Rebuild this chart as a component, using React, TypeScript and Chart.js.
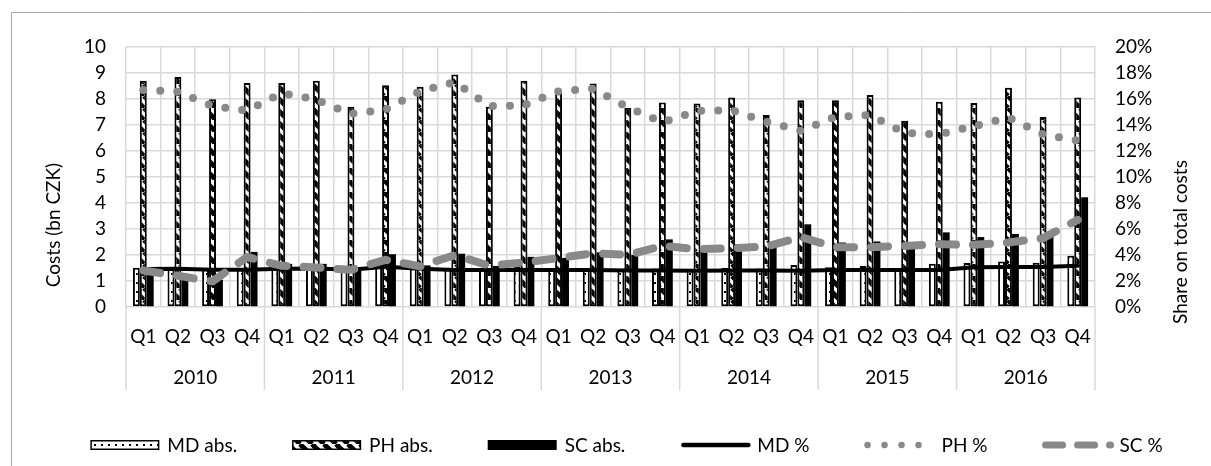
import React, { useEffect, useRef } from 'react';
import { Chart, registerables } from 'chart.js';

Chart.register(...registerables);

// ---------- data ----------
const years = ['2010', '2011', '2012', '2013', '2014', '2015', '2016'];
const quarters = ['Q1', 'Q2', 'Q3', 'Q4'];

const mdAbs = [1.51, 1.51, 1.45, 1.47, 1.48, 1.55, 1.45, 1.66, 1.5, 1.5, 1.45, 1.58, 1.45, 1.5, 1.45, 1.48, 1.45, 1.5, 1.48, 1.62, 1.53, 1.58, 1.5, 1.66, 1.69, 1.75, 1.7, 1.97];
const phAbs = [8.7, 8.85, 7.99, 8.62, 8.62, 8.7, 7.7, 8.53, 8.47, 8.94, 7.7, 8.7, 8.34, 8.6, 7.66, 7.87, 7.83, 8.06, 7.38, 7.95, 7.95, 8.15, 7.16, 7.89, 7.85, 8.43, 7.31, 8.06];
const scAbs = [1.47, 1.28, 1.05, 2.12, 1.66, 1.66, 1.48, 2.03, 1.6, 2.05, 1.58, 1.93, 1.89, 2.1, 2.0, 2.6, 2.31, 2.41, 2.41, 3.18, 2.48, 2.52, 2.5, 2.87, 2.69, 2.81, 2.75, 4.22];
const mdPct = [2.92, 2.95, 2.86, 2.86, 2.95, 2.97, 2.86, 3.1, 2.95, 2.85, 2.85, 2.85, 2.85, 2.85, 2.8, 2.8, 2.78, 2.8, 2.8, 2.78, 2.85, 2.85, 2.85, 2.85, 3.05, 3.07, 3.07, 3.17];
const phPct = [16.7, 16.55, 15.45, 15.1, 16.45, 15.95, 14.85, 15.2, 16.6, 17.3, 15.45, 15.5, 16.6, 16.8, 15.35, 14.2, 15.09, 15.14, 14.25, 13.55, 14.63, 14.76, 13.4, 13.28, 13.91, 14.58, 13.28, 12.8];
const scPct = [2.81, 2.4, 1.97, 3.85, 3.17, 3.04, 2.86, 3.63, 3.12, 4.0, 3.17, 3.43, 3.76, 4.14, 4.0, 4.7, 4.45, 4.52, 4.65, 5.37, 4.6, 4.6, 4.7, 4.82, 4.78, 4.96, 5.3, 6.7];

const leftAxis = { min: 0, max: 10, step: 1, title: 'Costs (bn CZK)' };
const rightAxis = { min: 0, max: 20, step: 2, title: 'Share on total costs' };

const labels = years.flatMap(() => quarters);

const FONT = 'Lato, "Open Sans", sans-serif';
const FS = 19;
const GRID = '#d9d9d9';
const GRAY = '#898989';

function dotPattern(ctx: CanvasRenderingContext2D) {
  const c = document.createElement('canvas');
  c.width = 7; c.height = 9;
  const g = c.getContext('2d')!;
  g.fillStyle = '#fff'; g.fillRect(0, 0, 7, 9);
  g.fillStyle = '#000'; g.fillRect(3, 3, 2, 2);
  return ctx.createPattern(c, 'repeat')!;
}
function stripePattern(ctx: CanvasRenderingContext2D) {
  const s = 12;
  const c = document.createElement('canvas');
  c.width = s; c.height = s;
  const g = c.getContext('2d')!;
  g.fillStyle = '#fff'; g.fillRect(0, 0, s, s);
  g.strokeStyle = '#000'; g.lineWidth = 5;
  for (const k of [-s, 0, s]) {
    g.beginPath(); g.moveTo(k, 0); g.lineTo(k + s, s); g.stroke();
  }
  return ctx.createPattern(c, 'repeat')!;
}

export default function App() {
  const ref = useRef<HTMLCanvasElement>(null);
  useEffect(() => {
    const canvas = ref.current!;
    const ctx0 = canvas.getContext('2d')!;
    const dots = dotPattern(ctx0);
    const stripes = stripePattern(ctx0);

    const legendItems = [
      { text: 'MD abs.', kind: 'box', fill: dots, bw: 1.5 },
      { text: 'PH abs.', kind: 'box', fill: stripes, bw: 1.5 },
      { text: 'SC abs.', kind: 'box', fill: '#000', bw: 0 },
      { text: 'MD %', kind: 'line', color: '#000', width: 4.5, dash: [] as number[] },
      { text: 'PH %', kind: 'line', color: GRAY, width: 6.5, dash: [0, 17] },
      { text: 'SC %', kind: 'line', color: GRAY, width: 7, dash: [17, 15] },
    ];

    const decor = {
      id: 'decor',
      beforeDraw(chart: any) {
        const c = chart.ctx as CanvasRenderingContext2D;
        c.save();
        c.strokeStyle = '#a6a6a6';
        c.lineWidth = 1;
        c.beginPath();
        c.moveTo(11.5, chart.height);
        c.lineTo(11.5, 12.5);
        c.lineTo(chart.width, 12.5);
        c.stroke();
        c.restore();
      },
      afterDraw(chart: any) {
        const c = chart.ctx as CanvasRenderingContext2D;
        const area = chart.chartArea;
        const x = chart.scales.x;
        const catW = x.getPixelForValue(1) - x.getPixelForValue(0);
        c.save();
        c.fillStyle = '#000';
        c.font = `${FS}px ${FONT}`;
        c.textAlign = 'center';
        c.textBaseline = 'middle';
        labels.forEach((q, i) => c.fillText(q, x.getPixelForValue(i), area.bottom + 30));
        c.strokeStyle = GRID;
        c.lineWidth = 1.5;
        for (let yi = 0; yi <= years.length; yi++) {
          const bx = x.getPixelForValue(yi * 4) - catW / 2;
          c.beginPath();
          c.moveTo(bx, area.bottom);
          c.lineTo(bx, area.bottom + 83);
          c.stroke();
        }
        years.forEach((yr, yi) => {
          const cx = (x.getPixelForValue(yi * 4) + x.getPixelForValue(yi * 4 + 3)) / 2;
          c.fillText(yr, cx, area.bottom + 71);
        });
        // axis titles
        c.save();
        c.translate(54, 225);
        c.rotate(-Math.PI / 2);
        c.fillText(leftAxis.title, 0, 0);
        c.restore();
        c.save();
        c.translate(1181, 242);
        c.rotate(-Math.PI / 2);
        c.fillText(rightAxis.title, 0, 0);
        c.restore();

        // legend
        const sampleW = 69, gapST = 8, gapItem = 55;
        c.textAlign = 'left';
        const widths = legendItems.map((it) => sampleW + gapST + c.measureText(it.text).width);
        const total = widths.reduce((a, b) => a + b, 0) + gapItem * (legendItems.length - 1);
        let lx = 626.5 - total / 2;
        const ly = 445;
        legendItems.forEach((it: any, i) => {
          if (it.kind === 'box') {
            c.fillStyle = it.fill;
            c.fillRect(lx, ly - 5, sampleW, 10);
            if (it.bw) {
              c.strokeStyle = '#000';
              c.lineWidth = it.bw;
              c.strokeRect(lx + 0.75, ly - 4.25, sampleW - 1.5, 8.5);
            }
          } else {
            c.strokeStyle = it.color;
            c.lineWidth = it.width;
            c.lineCap = 'round';
            c.setLineDash(it.dash);
            c.beginPath();
            c.moveTo(lx + 3, ly);
            c.lineTo(lx + sampleW - 1, ly);
            c.stroke();
            c.setLineDash([]);
          }
          c.fillStyle = '#000';
          c.fillText(it.text, lx + sampleW + gapST, ly + 1);
          lx += widths[i] + gapItem;
        });
        c.restore();
      },
    };

    const chart = new Chart(canvas, {
      type: 'bar',
      data: {
        labels,
        datasets: [
          { type: 'bar', label: 'MD abs.', data: mdAbs, yAxisID: 'y', backgroundColor: dots, borderColor: '#000', borderWidth: 2, borderSkipped: false, categoryPercentage: 0.6, barPercentage: 1.0, order: 3 } as any,
          { type: 'bar', label: 'PH abs.', data: phAbs, yAxisID: 'y', backgroundColor: stripes, borderColor: '#000', borderWidth: 2, borderSkipped: false, categoryPercentage: 0.6, barPercentage: 1.0, order: 3 } as any,
          { type: 'bar', label: 'SC abs.', data: scAbs, yAxisID: 'y', backgroundColor: '#000', borderColor: '#000', borderWidth: 0, categoryPercentage: 0.6, barPercentage: 1.0, order: 3 } as any,
          { type: 'line', label: 'MD %', data: mdPct, yAxisID: 'y1', borderColor: '#000', borderWidth: 4, pointRadius: 0, tension: 0, fill: false, borderCapStyle: 'round', borderJoinStyle: 'round', order: 2 } as any,
          { type: 'line', label: 'PH %', data: phPct, yAxisID: 'y1', borderColor: GRAY, borderWidth: 8, borderDash: [0, 17], borderCapStyle: 'round', borderJoinStyle: 'round', pointRadius: 0, tension: 0, fill: false, order: 1 } as any,
          { type: 'line', label: 'SC %', data: scPct, yAxisID: 'y1', borderColor: GRAY, borderWidth: 8, borderDash: [17, 17], borderCapStyle: 'round', borderJoinStyle: 'round', pointRadius: 0, tension: 0, fill: false, order: 0 } as any,
        ],
      },
      options: {
        animation: false,
        responsive: false,
        maintainAspectRatio: false,
        devicePixelRatio: 1,
        layout: { padding: { top: 47, left: 0, right: 0, bottom: 0 } },
        plugins: { legend: { display: false }, tooltip: { enabled: false }, title: { display: false } },
        scales: {
          x: {
            grid: { display: true, offset: true, color: GRID, lineWidth: 1.5, drawTicks: false },
            border: { display: false },
            ticks: { display: false },
            afterFit: (s: any) => { s.height = 159; },
          },
          y: {
            position: 'left',
            min: leftAxis.min, max: leftAxis.max,
            ticks: { stepSize: leftAxis.step, padding: 20, color: '#000', font: { family: FONT, size: FS } },
            grid: { color: GRID, lineWidth: 1.5, drawTicks: false },
            border: { display: false },
            afterFit: (s: any) => { s.width = 126; },
          },
          y1: {
            position: 'right',
            min: rightAxis.min, max: rightAxis.max,
            ticks: { stepSize: rightAxis.step, padding: 20, color: '#000', font: { family: FONT, size: FS }, callback: (v: any) => `${v}%` },
            grid: { display: false, drawTicks: false },
            border: { display: false },
            afterFit: (s: any) => { s.width = 116; },
          },
        },
      } as any,
      plugins: [decor],
    });
    return () => chart.destroy();
  }, []);

  return (
    <div style={{ position: 'absolute', left: 0, top: 0, width: 1211, height: 466, background: '#fff' }}>
      <canvas ref={ref} width={1211} height={466} style={{ display: 'block', width: 1211, height: 466 }} />
    </div>
  );
}
